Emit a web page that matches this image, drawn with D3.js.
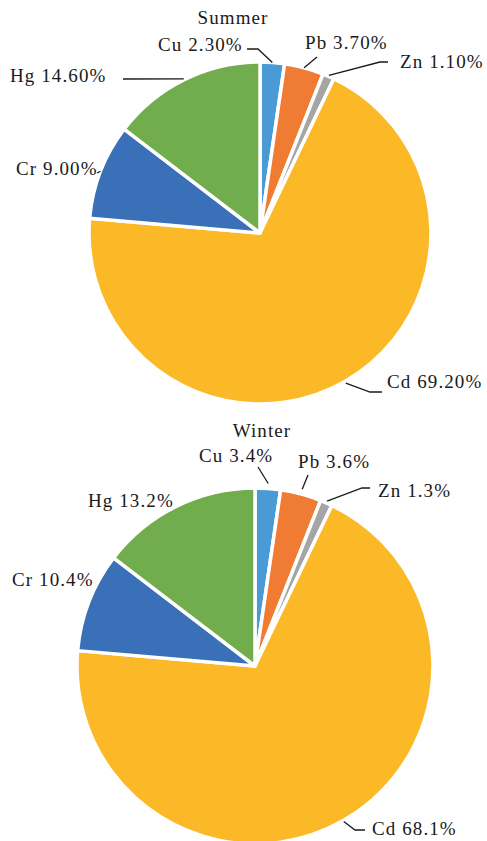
<!DOCTYPE html>
<html>
<head>
<meta charset="utf-8">
<script src="https://cdn.jsdelivr.net/npm/d3@7"></script>
<style>
  body { margin: 0; background: #fff; }
  text { font-family: "Liberation Serif", "Times New Roman", serif; font-size: 19px; fill: #1a1a1a; letter-spacing: 1.1px; }
</style>
</head>
<body>
<svg id="chart" width="487" height="841"></svg>
<script>
// metals, clockwise from 12 o'clock
const metals = ["Cu", "Pb", "Zn", "Cd", "Cr", "Hg"];
const summerShare = [2.3, 3.7, 1.1, 69.2, 9.0, 14.6];
const summerText = ["2.30%", "3.70%", "1.10%", "69.20%", "9.00%", "14.60%"];
// winter labels
const winterShare = [3.4, 3.6, 1.3, 68.1, 10.4, 13.2];
const winterText = ["3.4%", "3.6%", "1.3%", "68.1%", "10.4%", "13.2%"];
// the winter slices in the figure are drawn with the same proportions as summer
const winterDrawn = [2.3, 3.7, 1.1, 69.2, 9.0, 14.6];

const colors = d3.scaleOrdinal()
  .domain(metals)
  .range(["#4a9ad5", "#f07c33", "#a5a5a5", "#fbb827", "#3a70b7", "#72ad4d"]);

const svg = d3.select("#chart");

// label placement (text start + leader bends), per chart
const summerLayout = {
  cx: 260, cy: 233, r: 171, title: [233, 24],
  labels: {
    Cu: { x: 158, y: 51, pts: [[247, 49], [258, 49]], off: 0 },
    Pb: { x: 305, y: 49, pts: [[317, 57]], off: 0 },
    Zn: { x: 400, y: 68, pts: [[388, 62], [380, 62]], off: 1 },
    Cd: { x: 387, y: 388, pts: [[382, 392], [370, 392]], off: 2 },
    Cr: { x: 16, y: 175, pts: [[97, 173]], off: 0 },
    Hg: { x: 10, y: 82, pts: [[123, 79]], off: 1 }
  }
};
const winterLayout = {
  cx: 255, cy: 666, r: 178, title: [262, 437],
  labels: {
    Cu: { x: 199, y: 462, pts: [[258, 467]], off: 5 },
    Pb: { x: 298, y: 468, pts: [[308, 475]], off: 5 },
    Zn: { x: 378, y: 497, pts: [[370, 488], [362, 488]], off: 2 },
    Cd: { x: 372, y: 835, pts: [[365, 830], [355, 830]], off: 1 },
    Cr: { x: 12, y: 586, pts: null },
    Hg: { x: 88, y: 507, pts: null }
  }
};

function drawPie(title, values, texts, layout) {
  const rows = metals.map((m, i) => ({ metal: m, value: values[i], text: m + " " + texts[i] }));
  const pie = d3.pie().sort(null).value(d => d.value);
  const arcs = pie(rows);
  const arc = d3.arc().innerRadius(0).outerRadius(layout.r);

  const g = svg.append("g").attr("transform", `translate(${layout.cx},${layout.cy})`);
  g.selectAll("path")
    .data(arcs)
    .join("path")
    .attr("d", arc)
    .attr("fill", d => colors(d.data.metal))
    .attr("stroke", "#fff")
    .attr("stroke-width", 3.5)
    .attr("stroke-linejoin", "round");

  svg.append("text")
    .attr("x", layout.title[0])
    .attr("y", layout.title[1])
    .attr("text-anchor", "middle")
    .text(title);

  const line = d3.line();
  arcs.forEach(a => {
    const lab = layout.labels[a.data.metal];
    svg.append("text").attr("x", lab.x).attr("y", lab.y).text(a.data.text);
    if (!lab.pts) return;
    const edge = d3.arc().innerRadius(layout.r + lab.off).outerRadius(layout.r + lab.off);
    const [ex, ey] = edge.centroid(a);
    svg.append("path")
      .attr("d", line(lab.pts.concat([[layout.cx + ex, layout.cy + ey]])))
      .attr("fill", "none")
      .attr("stroke", "#1a1a1a")
      .attr("stroke-width", 1.3);
  });
}

drawPie("Summer", summerShare, summerText, summerLayout);
drawPie("Winter", winterDrawn, winterText, winterLayout);
</script>
</body>
</html>
